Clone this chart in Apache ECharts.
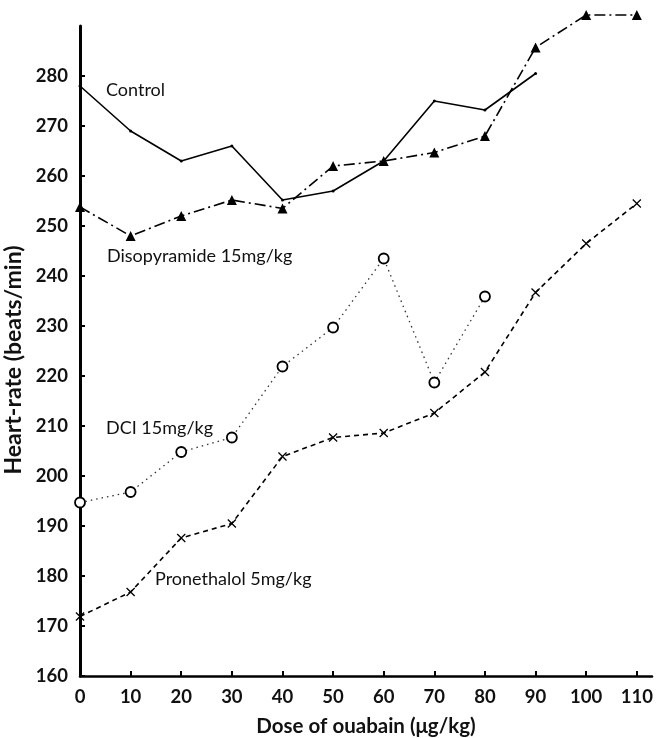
<!DOCTYPE html>
<html><head><meta charset="utf-8">
<script src="https://cdn.jsdelivr.net/npm/echarts@6/dist/echarts.min.js"></script>
<style>html,body{margin:0;padding:0;background:#fff}#c{width:657px;height:738px}</style>
</head><body><div id="c"></div>
<script>
const doses = [0,10,20,30,40,50,60,70,80,90,100,110];
const control = [278,269,263,266,255.2,257,263,275,273.2,280.5];
const disopyramide = [253.8,248,252,255.2,253.5,262,263,264.7,268,285.7,292.2,292.2];
const dci = [194.7,196.8,204.8,207.7,221.9,229.7,243.5,218.7,235.9];
const pronethalol = [171.9,176.8,187.6,190.5,203.9,207.7,208.6,212.6,220.8,236.7,246.5,254.5];
const xTicks = [0,10,20,30,40,50,60,70,80,90,100,110];
const yTicks = [160,170,180,190,200,210,220,230,240,250,260,270,280];
const seriesNames = ['Control','Disopyramide 15mg/kg','DCI 15mg/kg','Pronethalol 5mg/kg'];

function pairs(vals){ return vals.map((v,i)=>[doses[i],v]); }
const font = 'Lato, "Open Sans", sans-serif';
const xSym = 'path://M0,1L1,0L5,4L9,0L10,1L6,5L10,9L9,10L5,6L1,10L0,9L4,5Z';

const chart = echarts.init(document.getElementById('c'), null, {renderer:'canvas'});
chart.setOption({
  animation:false,
  backgroundColor:'#fff',
  grid:{left:80, top:26, width:572, height:650, containLabel:false, outerBoundsMode:'none'},
  xAxis:{type:'value', min:0, max:113, interval:10,
    name:'Dose of ouabain (\u03bcg/kg)', nameLocation:'middle', nameGap:40,
    nameTextStyle:{fontFamily:font, fontWeight:'bold', fontSize:20.5, color:'#111'},
    axisLine:{show:true, lineStyle:{color:'#000', width:2.5}},
    axisTick:{show:true, inside:true, length:5, lineStyle:{color:'#000', width:2}, customValues:xTicks},
    axisLabel:{fontFamily:font, fontWeight:'bold', fontSize:18.5, color:'#111', margin:12, customValues:xTicks},
    splitLine:{show:false}},
  yAxis:{type:'value', min:160, max:290, interval:10,
    name:'Heart-rate (beats/min)', nameLocation:'middle', nameGap:49, nameRotate:90,
    nameTextStyle:{fontFamily:font, fontWeight:'bold', fontSize:23, color:'#111', padding:[0,18,0,0]},
    axisLine:{show:true, lineStyle:{color:'#000', width:3}},
    axisTick:{show:true, inside:true, length:5, lineStyle:{color:'#000', width:2}, customValues:yTicks},
    axisLabel:{fontFamily:font, fontWeight:'bold', fontSize:18.5, color:'#111', margin:12, customValues:yTicks},
    splitLine:{show:false}},
  series:[
    {name:seriesNames[0], type:'line', data:pairs(control), clip:false,
     lineStyle:{color:'#000', width:1.6, type:'solid'},
     symbol:'circle', symbolSize:3, itemStyle:{color:'#000'}},
    {name:seriesNames[1], type:'line', data:pairs(disopyramide), clip:false,
     lineStyle:{color:'#000', width:1.6, type:[11,4,2,4]},
     symbol:'triangle', symbolSize:10, itemStyle:{color:'#000'}},
    {name:seriesNames[2], type:'line', data:pairs(dci), clip:false,
     lineStyle:{color:'#333', width:1.3, type:[1.5,4]},
     symbol:'circle', symbolSize:10, itemStyle:{color:'#fff', borderColor:'#000', borderWidth:1.8}},
    {name:seriesNames[3], type:'line', data:pairs(pronethalol), clip:false,
     lineStyle:{color:'#000', width:1.6, type:[5,4]},
     symbol:xSym, symbolSize:9, itemStyle:{color:'#000'}}
  ],
  graphic:[
    {type:'text', left:106, top:81, style:{text:seriesNames[0], font:'18px '+font, fill:'#111'}},
    {type:'text', left:107, top:247, style:{text:seriesNames[1], font:'18px '+font, fill:'#111'}},
    {type:'text', left:106, top:419, style:{text:seriesNames[2], font:'18px '+font, fill:'#111'}},
    {type:'text', left:155, top:570, style:{text:seriesNames[3], font:'18px '+font, fill:'#111'}}
  ]
});
</script></body></html>
